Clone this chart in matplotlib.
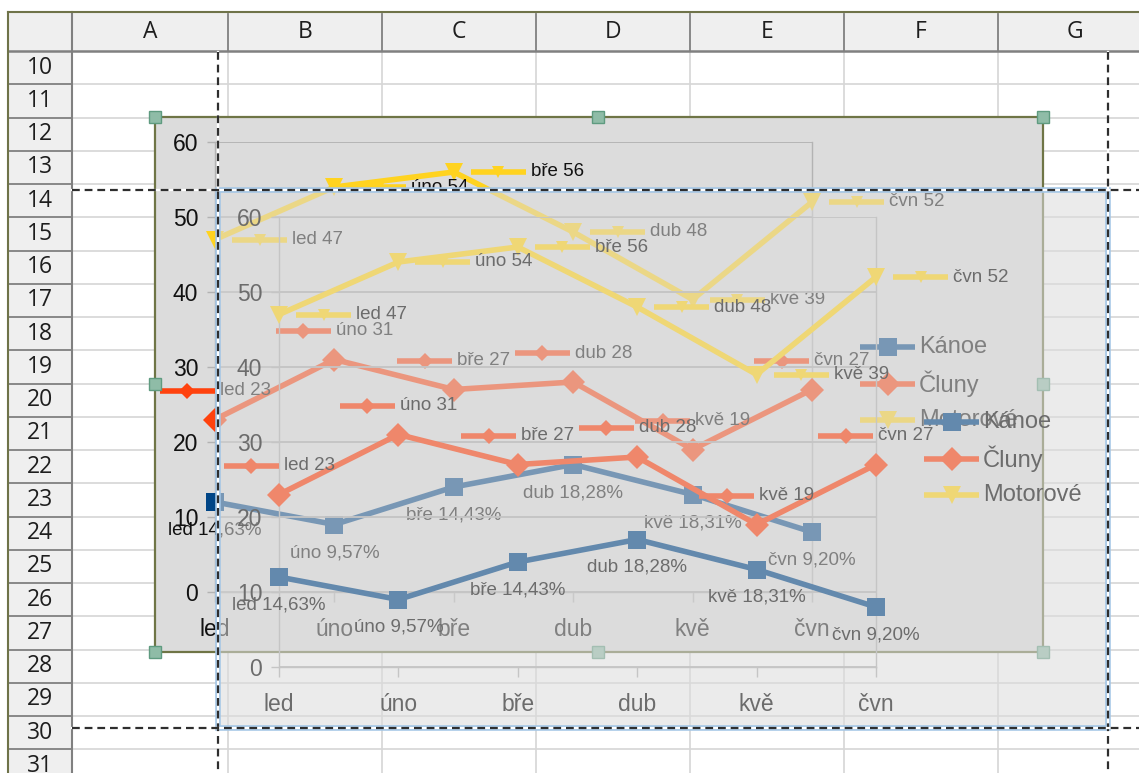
import matplotlib
matplotlib.use('Agg')
import matplotlib.pyplot as plt
from matplotlib import font_manager
from matplotlib.patches import Rectangle
import matplotlib.colors as mcolors

# ---------------- data ----------------
months = ['led', 'úno', 'bře', 'dub', 'kvě', 'čvn']
kanoe = [12, 9, 14, 17, 13, 8]
cluny = [23, 31, 27, 28, 19, 27]
motorove = [47, 54, 56, 48, 39, 52]
series_names = ['Kánoe', 'Čluny', 'Motorové']
y_ticks = [0, 10, 20, 30, 40, 50, 60]
col_letters = ['A', 'B', 'C', 'D', 'E', 'F', 'G']
row_numbers = list(range(10, 32))

# ---------------- setup ----------------
W, H = 1139, 773
fig = plt.figure(figsize=(W / 100, H / 100), dpi=100)
fig.patch.set_facecolor('white')

installed = {f.name for f in font_manager.fontManager.ttflist}
AX_FONT = 'Liberation Sans' if 'Liberation Sans' in installed else 'DejaVu Sans'
if 'Liberation Sans Narrow' in installed:
    LBL_FONT, LBL_SIZE = 'Liberation Sans Narrow', 16
else:
    LBL_FONT, LBL_SIZE = AX_FONT, 13.5
SHEET_FONT = 'Open Sans' if 'Open Sans' in installed else AX_FONT

BG = '#dcdcdc'


def fade(c, a):
    r, g, b, _ = mcolors.to_rgba(c)
    if a >= 1:
        return (r, g, b, 1)
    br, bgc, bb, _ = mcolors.to_rgba(BG)
    return (a * r + (1 - a) * br, a * g + (1 - a) * bgc, a * b + (1 - a) * bb, 1)


_n = [0]


def px_axes(z):
    _n[0] += 1
    a = fig.add_axes([0, 0, 1, 1], zorder=z, label='px%d' % _n[0])
    a.set_xlim(0, W)
    a.set_ylim(H, 0)
    a.axis('off')
    return a


# ---------------- spreadsheet ----------------
page = px_axes(0)
col_edges = [72, 228, 382, 536, 690, 844, 998, 1152]
ROW_TOP, ROW_H = 51, 33.25
page.add_patch(Rectangle((8, 12), W - 8, ROW_TOP - 12, fc='#efefef', ec='none'))
page.add_patch(Rectangle((8, ROW_TOP), 64, H - ROW_TOP, fc='#efefef', ec='none'))
row_edges = [ROW_TOP + k * ROW_H for k in range(len(row_numbers) + 1)]
for y in row_edges[1:]:
    page.plot([72, W], [y, y], color='#d6d6d6', lw=1.2)
    page.plot([8, 72], [y, y], color='#808080', lw=1.3)
for x in col_edges[1:-1]:
    page.plot([x, x], [ROW_TOP, H], color='#d6d6d6', lw=1.2)
    page.plot([x, x], [14, ROW_TOP], color='#808080', lw=1.3)
page.plot([72, 72], [12, H], color='#808080', lw=1.5)
page.plot([8, W], [ROW_TOP, ROW_TOP], color='#808080', lw=1.8)
page.plot([8, W], [11.5, 11.5], color='#6f7349', lw=1.5)
page.plot([8, 8], [11.5, H], color='#6f7349', lw=1.5)
for i, L in enumerate(col_letters):
    page.text((col_edges[i] + col_edges[i + 1]) / 2, 32, L, ha='center', va='center',
              fontsize=16.5, family=SHEET_FONT, color='#1e1e1e')
for k, r in enumerate(row_numbers):
    page.text(40, ROW_TOP + (k + 0.5) * ROW_H, str(r), ha='center', va='center',
              fontsize=16.5, family=SHEET_FONT, color='#1e1e1e')

SER = [(kanoe, '#004586', 's'), (cluny, '#ff420e', 'D'), (motorove, '#ffd320', 'v')]
renderer = fig.canvas.get_renderer()


def px(ax, i, v):
    x, y = ax.transData.transform((i, v))
    return x, H - y


def sym(ov, x0, y, c, m, ms=8.5, length=55):
    ov.plot([x0, x0 + length], [y, y], color=c, lw=4, solid_capstyle='butt')
    ov.plot([x0 + length / 2], [y], marker=m, ms=ms, color=c, mew=0)


def draw_chart(dx, dy, a, z):
    txt = fade('#111111', a)
    grid = fade('#b3b3b3', a)
    L, R, T, B = 215 + dx, 812 + dx, 142 + dy, 592 + dy
    ax = fig.add_axes([L / W, 1 - B / H, (R - L) / W, (B - T) / H], zorder=z)
    ax.patch.set_visible(False)
    ax.set_xlim(0, len(months) - 1)
    ax.set_ylim(y_ticks[0], y_ticks[-1])
    ax.set_yticks(y_ticks)
    ax.set_xticks(range(len(months)))
    ax.set_xticklabels(months)
    ax.grid(axis='y', color=grid, lw=1.3)
    ax.set_axisbelow(True)
    for s in ax.spines.values():
        s.set_color(grid)
        s.set_linewidth(1)
    ax.spines['top'].set_visible(False)
    ax.tick_params(axis='y', length=6, width=1, color=grid, pad=6, labelsize=16.5, labelcolor=txt)
    ax.tick_params(axis='x', length=7, width=1, color=grid, pad=12, labelsize=16.5, labelcolor=txt)
    for lab in ax.get_xticklabels() + ax.get_yticklabels():
        lab.set_family(AX_FONT)
    for vals, c, m in SER:
        ax.plot(range(len(vals)), vals, color=fade(c, a), lw=4, marker=m, ms=12.5,
                mew=0, clip_on=False, zorder=3)

    ov = px_axes(z + 1)
    cc, cm = fade(SER[1][1], a), fade(SER[2][1], a)
    for i in range(len(months)):
        # Kánoe: below, share of month total
        x, y = px(ax, i, kanoe[i])
        pct = kanoe[i] / (kanoe[i] + cluny[i] + motorove[i]) * 100
        ov.text(x, y + 28, f'{months[i]} ' + f'{pct:.2f}'.replace('.', ',') + '%',
                ha='center', va='center', fontsize=LBL_SIZE, family=LBL_FONT, color=txt)
        # Čluny: above, centred
        x, y = px(ax, i, cluny[i])
        t = ov.text(0, y - 29, f'{months[i]} {cluny[i]}', ha='left', va='center',
                    fontsize=LBL_SIZE, family=LBL_FONT, color=txt)
        w = t.get_window_extent(renderer).width
        left = x - (55 + 5 + w) / 2
        sym(ov, left, y - 29, cc, 'D')
        t.set_x(left + 60)
        # Motorové: right
        x, y = px(ax, i, motorove[i])
        sym(ov, x + 17, y, cm, 'v')
        ov.text(x + 77, y, f'{months[i]} {motorove[i]}', ha='left', va='center',
                fontsize=LBL_SIZE, family=LBL_FONT, color=txt)
    # legend
    for k, (name, (vals, c, m)) in enumerate(zip(series_names, SER)):
        y = 347 + k * 36.5 + dy
        sym(ov, 860 + dx, y, fade(c, a), m, ms=12.5)
        ov.text(919 + dx, y, name, ha='left', va='center', fontsize=17,
                family=AX_FONT, color=txt)
    return ax, ov


# ---------------- back (original) chart ----------------
back_frame = px_axes(1)
back_frame.add_patch(Rectangle((155, 117), 888, 535, fc=BG, ec='#6f7546', lw=1.6))
ax_b, ov_b = draw_chart(0, 0, 1, 2)
for hx, hy in [(155, 117), (598, 117), (1043, 117), (155, 384), (1043, 384),
               (155, 652), (598, 652), (1043, 652)]:
    ov_b.add_patch(Rectangle((hx - 6, hy - 6), 12, 12, fc='#8fbca7', ec='#5f9b80',
                             lw=1, zorder=10))

# ---------------- front (drag preview) chart ----------------
ALPHA = 0.55
front_bg = px_axes(4)
front_bg.add_patch(Rectangle((218, 190), 890, 538, fc=BG, alpha=ALPHA, ec='none'))
ax_f, ov_f = draw_chart(64, 75, ALPHA, 5)

# ---------------- guides ----------------
g = px_axes(8)
g.add_patch(Rectangle((218, 190), 890, 538, fill=False, ec='#a3c6e6', lw=4))
for xs, ys in [([218, 218], [52, H]), ([1108, 1108], [52, H]),
               ([72, W], [190, 190]), ([72, W], [728, 728])]:
    g.plot(xs, ys, color='white', lw=1.6)
    g.plot(xs, ys, color='#2e2e2e', lw=1.6, linestyle=(0, (3.5, 2.2)))

fig.savefig('out.png', dpi=100, facecolor='white')
